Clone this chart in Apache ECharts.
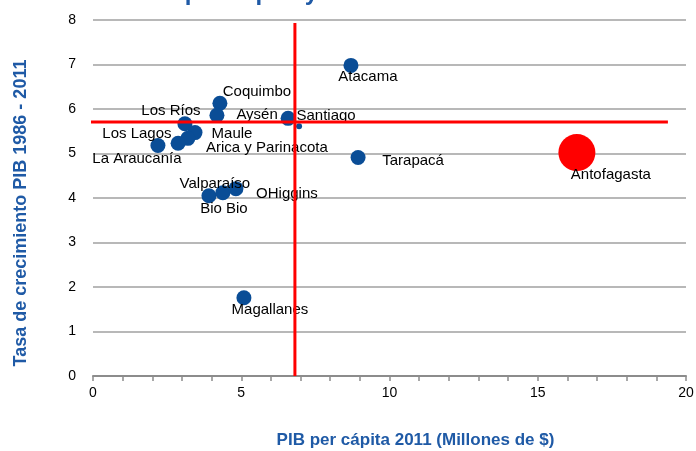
<!DOCTYPE html>
<html>
<head>
<meta charset="utf-8">
<script src="https://cdn.jsdelivr.net/npm/echarts@6/dist/echarts.min.js"></script>
<style>
  html, body { margin: 0; padding: 0; background: #fff; }
  #chart { width: 696px; height: 451px; }
</style>
</head>
<body>
<div id="chart"></div>
<script>
// regiones y valores
const regions = ['Atacama', 'Coquimbo', 'Los Ríos', 'Aysén', 'Santiago', 'Los Lagos', 'Maule',
  'Arica y Parinacota', '', 'La Araucanía', 'Tarapacá', 'Antofagasta', 'Bio Bio', 'Valparaíso',
  'OHiggins', 'Magallanes']
const pibPerCapita = [8.70, 4.28, 4.18, 6.58, 6.95, 3.10, 3.44, 3.20, 2.87, 2.19, 8.94, 16.32,
  3.91, 4.38, 4.82, 5.09]
const crecimiento = [6.98, 6.13, 5.86, 5.79, 5.61, 5.67, 5.47, 5.34, 5.23, 5.18, 4.91, 5.02,
  4.05, 4.12, 4.21, 1.76]
const xTicks = [0, 5, 10, 15, 20]
const yTicks = [0, 1, 2, 3, 4, 5, 6, 7, 8]
// promedios (líneas rojas)
const avgPib = 6.81
const avgCrec = 5.71

const BLUE = '#0a4d96'
const TITLE_BLUE = '#1f5aa6'

// posición de cada etiqueta respecto al centro del punto
const labelOffset = {
  'Atacama': [17, 11], 'Coquimbo': [37, -11], 'Los Ríos': [-46, -4], 'Aysén': [-31, -3],
  'Santiago': [27, -10], 'Los Lagos': [-48, 10], 'Maule': [37, 1], 'Arica y Parinacota': [79, 9],
  'La Araucanía': [-21, 13], 'Tarapacá': [55, 3], 'Antofagasta': [34, 22], 'Bio Bio': [15, 13],
  'Valparaíso': [-8, -9], 'OHiggins': [51, 5], 'Magallanes': [26, 12],
}
const special = {
  'Antofagasta': { size: 37, color: '#ff0000' },
  'Santiago': { size: 6, color: BLUE },
}

const points = regions.map((name, i) => {
  const s = special[name] || { size: 15, color: BLUE }
  return {
    name,
    value: [pibPerCapita[i], crecimiento[i]],
    symbolSize: s.size,
    itemStyle: { color: s.color, opacity: 1 },
    label: {
      show: name !== '',
      position: 'inside',
      offset: labelOffset[name] || [0, 0],
    },
  }
})

const chart = echarts.init(document.getElementById('chart'))
chart.setOption({
  animation: false,
  title: {
    text: 'PIB per cápita y crecimiento',
    left: 133,
    top: -24,
    textStyle: { color: TITLE_BLUE, fontSize: 24, fontWeight: 'bold', fontFamily: 'Liberation Sans' },
  },
  grid: { left: 93, right: 10, top: 20, bottom: 75, outerBoundsMode: 'none' },
  xAxis: {
    type: 'value',
    min: 0,
    max: 20,
    interval: 1,
    name: 'PIB per cápita 2011 (Millones de $)',
    nameLocation: 'middle',
    nameGap: 56,
    nameTextStyle: {
      color: TITLE_BLUE, fontSize: 17, fontWeight: 'bold', fontFamily: 'Liberation Sans',
      padding: [0, 0, 0, 52],
    },
    axisLine: { lineStyle: { color: '#8c8c8c', width: 2 } },
    axisTick: { show: true, length: 5, lineStyle: { color: '#8c8c8c', width: 1.5 } },
    axisLabel: {
      color: '#000', fontSize: 14, fontFamily: 'Liberation Sans', margin: 10,
      formatter: (v) => (xTicks.includes(v) ? String(v) : ''),
    },
    splitLine: { show: false },
  },
  yAxis: {
    type: 'value',
    min: 0,
    max: 8,
    interval: 1,
    name: 'Tasa de crecimiento PIB 1986 - 2011',
    nameLocation: 'middle',
    nameGap: 63,
    nameTextStyle: {
      color: TITLE_BLUE, fontSize: 18, fontWeight: 'bold', fontFamily: 'Liberation Sans',
      padding: [0, 30, 0, 0],
    },
    axisLine: { show: false },
    axisTick: { show: false },
    axisLabel: {
      color: '#000', fontSize: 14, fontFamily: 'Liberation Sans', margin: 17,
      formatter: (v) => (yTicks.includes(v) ? String(v) : ''),
    },
    splitLine: { lineStyle: { color: '#a0a0a0', width: 1.5 } },
  },
  series: [
    {
      type: 'scatter',
      z: 2,
      data: points,
      label: {
        color: '#000', fontSize: 15, fontFamily: 'Liberation Sans',
        formatter: (p) => p.name,
      },
      emphasis: { disabled: true },
    },
    {
      type: 'line',
      z: 5,
      clip: false,
      symbol: 'none',
      data: [[avgPib, 0], [avgPib, 7.93]],
      lineStyle: { color: '#ff0000', width: 3 },
    },
    {
      type: 'line',
      z: 5,
      clip: false,
      symbol: 'none',
      data: [[-0.13, avgCrec], [19.39, avgCrec]],
      lineStyle: { color: '#ff0000', width: 3 },
    },
  ],
})
</script>
</body>
</html>
